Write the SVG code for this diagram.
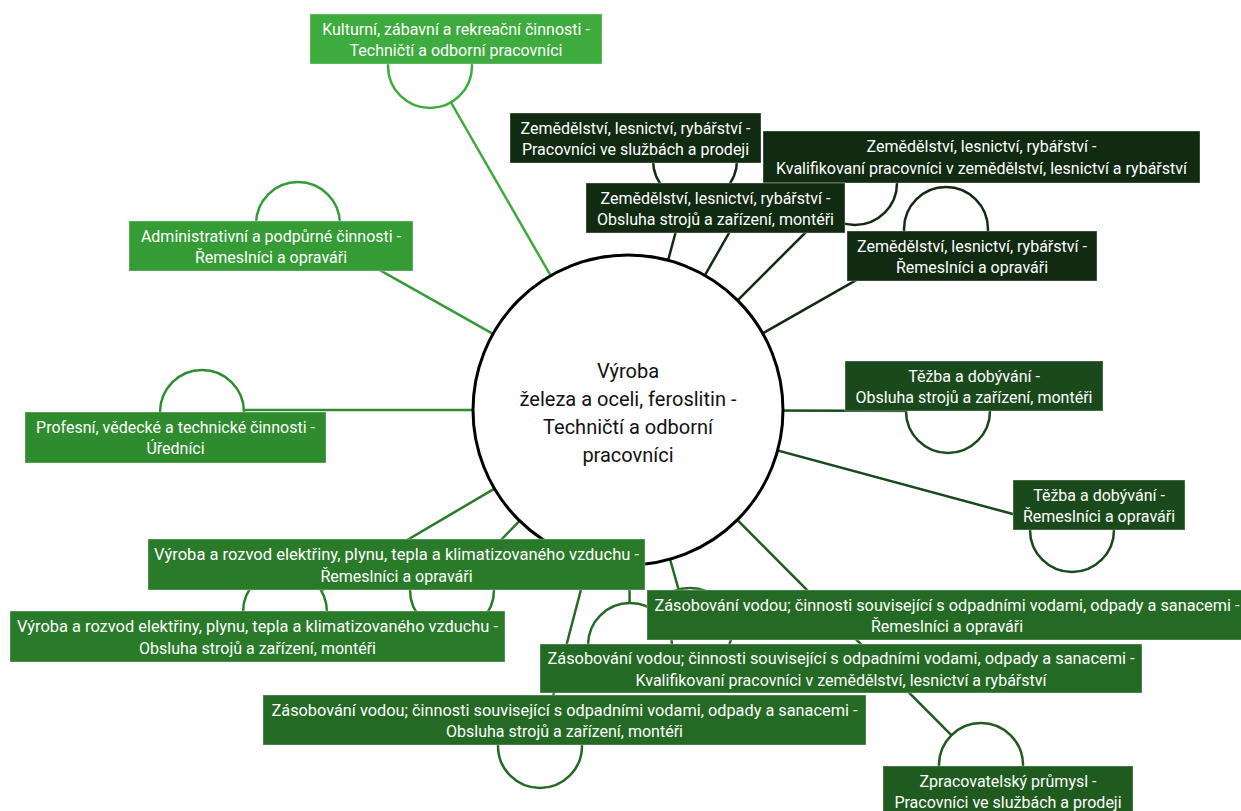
<svg xmlns="http://www.w3.org/2000/svg" width="1241" height="811" viewBox="0 0 1241 811">
<style>
.lbl{font-family:Roboto,"Liberation Sans",sans-serif;font-size:16px;fill:#ffffff;text-anchor:middle}
.main{font-family:Roboto,"Liberation Sans",sans-serif;font-size:20px;fill:#111111;text-anchor:middle}
.box{stroke:#ffffff;stroke-opacity:0.35;stroke-width:1}
.dot{fill:#ffffff;stroke-width:2.5}
.ln{stroke-width:2.5;fill:none}
.c1{fill:#3dab3d}.s1{stroke:#3dab3d}
.c2{fill:#359b35}.s2{stroke:#359b35}
.c3{fill:#2e8b2e}.s3{stroke:#2e8b2e}
.c4{fill:#297a29}.s4{stroke:#297a29}
.c5{fill:#246a24}.s5{stroke:#246a24}
.c6{fill:#1f5a1f}.s6{stroke:#1f5a1f}
.c7{fill:#1a4a1b}.s7{stroke:#1a4a1b}
.c8{fill:#112a12}.s8{stroke:#112a12}
</style>
<rect width="1241" height="811" fill="#ffffff"/>
<g id="connectors">
<line class="ln s1" x1="430" y1="66" x2="628" y2="410"/>
<line class="ln s2" x1="298" y1="224" x2="628" y2="410"/>
<line class="ln s3" x1="202" y1="410" x2="628" y2="410"/>
<line class="ln s8" x1="695" y1="160" x2="628" y2="410"/>
<line class="ln s8" x1="855" y1="183" x2="628" y2="410"/>
<line class="ln s8" x1="745" y1="205" x2="628" y2="410"/>
<line class="ln s8" x1="946" y1="229" x2="628" y2="410"/>
<line class="ln s7" x1="948" y1="411" x2="628" y2="410"/>
<line class="ln s7" x1="1072" y1="530" x2="628" y2="410"/>
<line class="ln s4" x1="452" y1="590" x2="628" y2="410"/>
<line class="ln s4" x1="285" y1="612" x2="628" y2="410"/>
<line class="ln s5" x1="690" y1="630" x2="628" y2="410"/>
<line class="ln s5" x1="630" y1="645" x2="628" y2="410"/>
<line class="ln s5" x1="540" y1="746" x2="628" y2="410"/>
<line class="ln s6" x1="981" y1="765" x2="628" y2="410"/>
</g>
<g id="center-node">
<circle cx="628" cy="410" r="155" fill="#ffffff" stroke="#000000" stroke-width="3"/>
<text class="main" x="628" y="378">Výroba</text>
<text class="main" x="628" y="406">železa a oceli, feroslitin -</text>
<text class="main" x="628" y="434">Techničtí a odborní</text>
<text class="main" x="628" y="462">pracovníci</text>
</g>
<g id="bubbles">
<circle id="b1" class="dot s1" cx="430" cy="66" r="42"/>
<circle id="b2" class="dot s2" cx="298" cy="224" r="42"/>
<circle id="b3" class="dot s3" cx="202" cy="412" r="42"/>
<circle id="b4" class="dot s8" cx="695" cy="160" r="42"/>
<circle id="b5" class="dot s8" cx="855" cy="183" r="42"/>
<circle id="b7" class="dot s8" cx="946" cy="229" r="42"/>
<circle id="b8" class="dot s7" cx="948" cy="411" r="42"/>
<circle id="b9" class="dot s7" cx="1072" cy="530" r="42"/>
<circle id="b10" class="dot s4" cx="452" cy="590" r="42"/>
<circle id="b11" class="dot s4" cx="285" cy="612" r="42"/>
<circle id="b12" class="dot s5" cx="690" cy="630" r="42"/>
<circle id="b13" class="dot s5" cx="630" cy="645" r="42"/>
<circle id="b14" class="dot s5" cx="540" cy="746" r="42"/>
<circle id="b15" class="dot s6" cx="981" cy="765" r="42"/>
</g>
<g id="n1"><rect class="box c1" x="310" y="14" width="292" height="50"/>
<text class="lbl" x="456" y="35">Kulturní, zábavní a rekreační činnosti -</text>
<text class="lbl" x="456" y="56">Techničtí a odborní pracovníci</text></g>
<g id="n2"><rect class="box c2" x="129" y="221" width="284" height="50"/>
<text class="lbl" x="271" y="242">Administrativní a podpůrné činnosti -</text>
<text class="lbl" x="271" y="263">Řemeslníci a opraváři</text></g>
<g id="n3"><rect class="box c3" x="25" y="412" width="301" height="51"/>
<text class="lbl" x="175.5" y="433">Profesní, vědecké a technické činnosti -</text>
<text class="lbl" x="175.5" y="454">Úředníci</text></g>
<g id="n5"><rect class="box c8" x="763" y="131" width="437" height="52"/>
<text class="lbl" x="981.5" y="152">Zemědělství, lesnictví, rybářství -</text>
<text class="lbl" x="981.5" y="174">Kvalifikovaní pracovníci v zemědělství, lesnictví a rybářství</text></g>
<g id="n4"><rect class="box c8" x="510" y="113" width="251" height="50"/>
<text class="lbl" x="635.5" y="134">Zemědělství, lesnictví, rybářství -</text>
<text class="lbl" x="635.5" y="155">Pracovníci ve službách a prodeji</text></g>
<g id="n6"><rect class="box c8" x="586" y="183" width="259" height="50"/>
<text class="lbl" x="715.5" y="204">Zemědělství, lesnictví, rybářství -</text>
<text class="lbl" x="715.5" y="225">Obsluha strojů a zařízení, montéři</text></g>
<g id="n7"><rect class="box c8" x="847" y="231" width="250" height="50"/>
<text class="lbl" x="972" y="252">Zemědělství, lesnictví, rybářství -</text>
<text class="lbl" x="972" y="273">Řemeslníci a opraváři</text></g>
<g id="n8"><rect class="box c7" x="845" y="361" width="258" height="50"/>
<text class="lbl" x="974" y="382">Těžba a dobývání -</text>
<text class="lbl" x="974" y="403">Obsluha strojů a zařízení, montéři</text></g>
<g id="n9"><rect class="box c7" x="1013" y="480" width="172" height="50"/>
<text class="lbl" x="1099" y="501">Těžba a dobývání -</text>
<text class="lbl" x="1099" y="522">Řemeslníci a opraváři</text></g>
<g id="n10"><rect class="box c4" x="148" y="539" width="497" height="51"/>
<text class="lbl" x="396.5" y="560" textLength="485" lengthAdjust="spacingAndGlyphs">Výroba a rozvod elektřiny, plynu, tepla a klimatizovaného vzduchu -</text>
<text class="lbl" x="396.5" y="582">Řemeslníci a opraváři</text></g>
<g id="n11"><rect class="box c4" x="10" y="611" width="495" height="51"/>
<text class="lbl" x="257.5" y="632" textLength="481" lengthAdjust="spacingAndGlyphs">Výroba a rozvod elektřiny, plynu, tepla a klimatizovaného vzduchu -</text>
<text class="lbl" x="257.5" y="654">Obsluha strojů a zařízení, montéři</text></g>
<g id="n12"><rect class="box c5" x="647" y="590" width="600" height="50"/>
<text class="lbl" x="947" y="611" textLength="585" lengthAdjust="spacingAndGlyphs">Zásobování vodou; činnosti související s odpadními vodami, odpady a sanacemi -</text>
<text class="lbl" x="947" y="632">Řemeslníci a opraváři</text></g>
<g id="n13"><rect class="box c5" x="540" y="644" width="602" height="49"/>
<text class="lbl" x="841" y="664" textLength="587" lengthAdjust="spacingAndGlyphs">Zásobování vodou; činnosti související s odpadními vodami, odpady a sanacemi -</text>
<text class="lbl" x="841" y="686">Kvalifikovaní pracovníci v zemědělství, lesnictví a rybářství</text></g>
<g id="n14"><rect class="box c5" x="263" y="695" width="603" height="50"/>
<text class="lbl" x="564.5" y="716" textLength="586" lengthAdjust="spacingAndGlyphs">Zásobování vodou; činnosti související s odpadními vodami, odpady a sanacemi -</text>
<text class="lbl" x="564.5" y="737">Obsluha strojů a zařízení, montéři</text></g>
<g id="n15"><rect class="box c6" x="883" y="766" width="250" height="50"/>
<text class="lbl" x="1008" y="787">Zpracovatelský průmysl -</text>
<text class="lbl" x="1008" y="808">Pracovníci ve službách a prodeji</text></g>
</svg>
